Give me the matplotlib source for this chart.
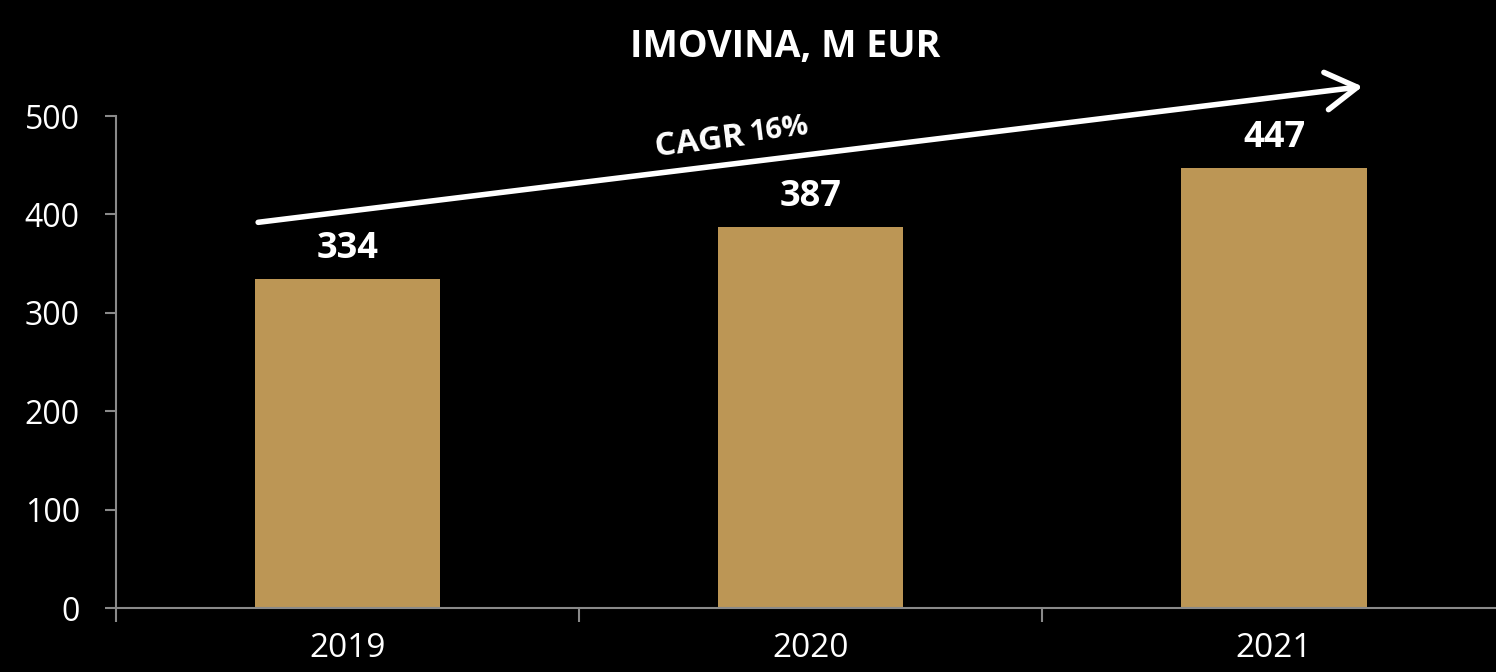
import matplotlib.pyplot as plt
import numpy as np

years = ['2019', '2020', '2021']
values = [334, 387, 447]
yticks = [0, 100, 200, 300, 400, 500]
title = 'IMOVINA, M EUR'

bar_color = '#BC9655'
axis_color = '#8a8a8a'

plt.rcParams['font.family'] = ['Open Sans', 'DejaVu Sans']

fig = plt.figure(figsize=(14.96, 6.72), dpi=100, facecolor='black')
ax = fig.add_axes([0.0775, 0.0952, 0.929, 0.7321])
ax.set_facecolor('black')

x = np.arange(len(years))
ax.bar(x, values, width=0.4, color=bar_color, zorder=2)

# value labels
for xi, v in zip(x, values):
    ax.annotate(str(v), (xi, v), xytext=(0, 9), textcoords='offset points',
                ha='center', va='bottom', color='white', fontsize=26,
                fontweight='bold')

ax.set_xlim(-0.5, 2.5)
ax.set_ylim(0, 500)
ax.set_yticks(yticks)
ax.set_xticks(x)
ax.set_xticklabels(years)
ax.set_xticks([-0.5, 0.5, 1.5, 2.5], minor=True)

for s in ['top', 'right']:
    ax.spines[s].set_visible(False)
for s in ['left', 'bottom']:
    ax.spines[s].set_color(axis_color)
    ax.spines[s].set_linewidth(1.5)

ax.tick_params(axis='y', colors=axis_color, labelcolor='white', labelsize=23,
               length=8, width=1.5, pad=18)
ax.tick_params(axis='x', which='major', length=0, labelcolor='white',
               labelsize=24, pad=17)
ax.tick_params(axis='x', which='minor', colors=axis_color, length=10,
               width=1.5, direction='out')

# CAGR arrow
ax.annotate('', xy=(2.191, 530), xytext=(-0.193, 392),
            arrowprops=dict(arrowstyle='->,head_length=0.75,head_width=0.45',
                            color='white', lw=4, mutation_scale=30,
                            shrinkA=0, shrinkB=0),
            annotation_clip=False)
ax.text(0.759, 474, 'CAGR', rotation=7, ha='center', va='center',
        color='white', fontsize=24, fontweight='bold', clip_on=False,
        rotation_mode='anchor')
ax.text(0.932, 486, '16%', rotation=7, ha='center', va='center',
        color='white', fontsize=21, fontweight='bold', clip_on=False,
        rotation_mode='anchor')

fig.text(0.525, 0.93, title, ha='center', va='center', color='white',
         fontsize=27, fontweight='bold')

fig.savefig('out.png', dpi=100, facecolor='black')
